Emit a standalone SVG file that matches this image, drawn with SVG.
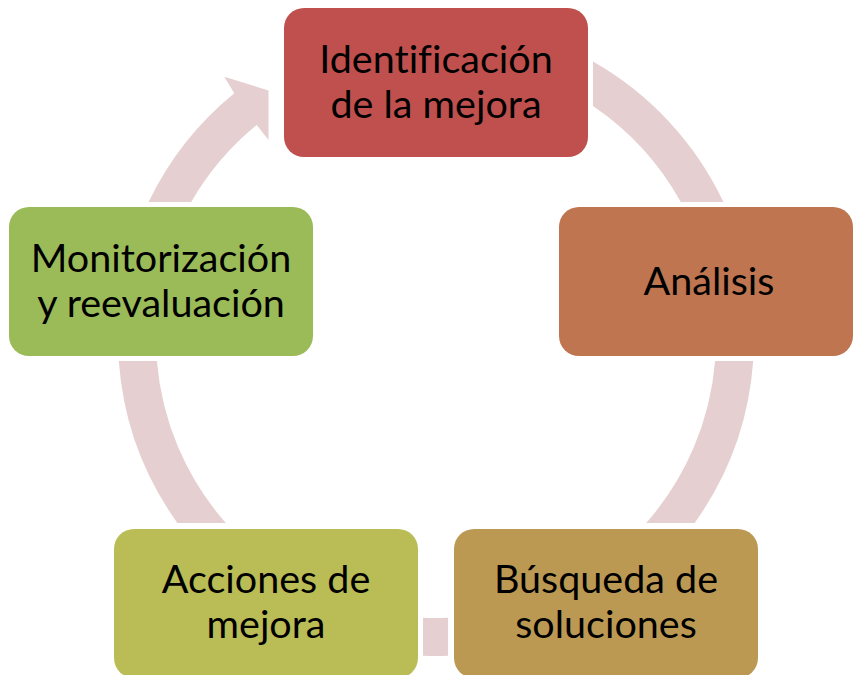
<svg xmlns="http://www.w3.org/2000/svg" width="854" height="675" viewBox="0 0 854 675">
<style>
.arc{fill:#E6CFD0;stroke:none}
.lbl{font-family:Lato,"Liberation Sans",sans-serif;font-size:39.5px;fill:#000;text-anchor:middle;font-variant-ligatures:none;font-feature-settings:"liga" 0,"clig" 0}
</style>
<rect width="854" height="675" fill="#fff"/>
<g id="connectors">
<path class="arc" d="M148.6,202 A318,318 0 0 1 234.3,93.3 L224.3,76.7 L268.5,90.5 L268.5,140 L256.7,125 A280,280 0 0 0 191.2,202 Z"/>
<path class="arc" d="M593,61.5 A318,318 0 0 1 723.4,202 L680.8,202 A280,280 0 0 0 593,106 Z"/>
<path class="arc" d="M753.2,361 A318,318 0 0 1 694.6,523 L646.2,523 A280,280 0 0 0 715.1,361 Z"/>
<path class="arc" d="M448,655.8 A318,318 0 0 1 423,655.7 L423,617.7 A280,280 0 0 0 448,617.7 Z"/>
<path class="arc" d="M177.4,523 A318,318 0 0 1 118.8,361 L156.9,361 A280,280 0 0 0 225.8,523 Z"/>
</g>
<g id="n1">
<rect x="284" y="8" width="304" height="149" rx="20" fill="#C0504D"/>
<text class="lbl" x="436" y="73">Identificación</text>
<text class="lbl" x="436" y="118">de la mejora</text>
</g>
<g id="n2">
<rect x="559" y="207" width="294" height="149" rx="20" fill="#BE7550"/>
<text class="lbl" x="709" y="295">Análisis</text>
</g>
<g id="n3">
<rect x="454" y="529" width="304" height="149" rx="20" fill="#BC9953"/>
<text class="lbl" x="606" y="593">Búsqueda de</text>
<text class="lbl" x="606" y="638">soluciones</text>
</g>
<g id="n4">
<rect x="114" y="529" width="304" height="149" rx="20" fill="#BABC56"/>
<text class="lbl" x="266" y="593">Acciones de</text>
<text class="lbl" x="266" y="638">mejora</text>
</g>
<g id="n5">
<rect x="9" y="207" width="304" height="149" rx="20" fill="#9BBB59"/>
<text class="lbl" x="161" y="272">Monitorización</text>
<text class="lbl" x="161" y="317">y reevaluación</text>
</g>
</svg>
